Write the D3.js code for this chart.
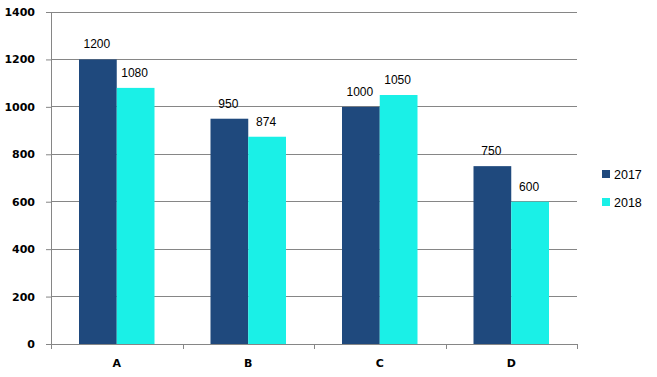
<!DOCTYPE html>
<html>
<head>
<meta charset="utf-8">
<script src="https://cdn.jsdelivr.net/npm/d3@7"></script>
<style>
  body { margin: 0; background: #fff; }
</style>
</head>
<body>
<div id="chart"></div>
<script>
// Chart data
var categories = ["A", "B", "C", "D"];
var seriesNames = ["2017", "2018"];
var values2017 = [1200, 950, 1000, 750];
var values2018 = [1080, 874, 1050, 600];
var yTicks = [0, 200, 400, 600, 800, 1000, 1200, 1400];

var colors = { "2017": "#1F497D", "2018": "#1AF0E7" };

var rows = categories.map(function(c, i) {
    return { key: c, values: [
        { series: "2017", value: values2017[i] },
        { series: "2018", value: values2018[i] }
    ] };
});

var totalW = 657, totalH = 377;
var margin = { top: 12, right: 80, bottom: 33, left: 51 },
    width = totalW - margin.left - margin.right,
    height = totalH - margin.top - margin.bottom;

var svg = d3.select("#chart")
    .append("svg")
    .attr("width", totalW)
    .attr("height", totalH)
    .append("g")
    .attr("transform", "translate(" + margin.left + "," + margin.top + ")");

var x = d3.scaleBand()
    .domain(categories)
    .range([0, width])
    .paddingInner(0)
    .paddingOuter(0);

var x1 = d3.scaleBand()
    .domain(seriesNames)
    .range([28, x.bandwidth() - 28]);

var y = d3.scaleLinear()
    .domain([0, 1400])
    .range([height, 0]);

// Gridlines
svg.append("g")
    .selectAll("line")
    .data(yTicks.slice(1))
    .enter().append("line")
    .attr("x1", 0)
    .attr("x2", width)
    .attr("y1", function(d) { return y(d); })
    .attr("y2", function(d) { return y(d); })
    .attr("stroke", "#868686")
    .attr("stroke-width", 1)
    .attr("shape-rendering", "crispEdges");

// Y axis
var yAxis = svg.append("g")
    .call(d3.axisLeft(y).tickValues(yTicks).tickFormat(d3.format("d")).tickSize(5).tickPadding(11));
yAxis.select(".domain").attr("stroke", "#868686").attr("d", "M0.5," + height + "V0");
yAxis.selectAll(".tick line").attr("stroke", "#868686");
yAxis.selectAll("text")
    .style("font-family", "'DejaVu Sans', sans-serif")
    .style("font-size", "11px")
    .style("font-weight", "bold")
    .attr("fill", "#000");

// Bars
var groups = svg.selectAll(".group")
    .data(rows)
    .enter().append("g")
    .attr("class", "group")
    .attr("transform", function(d) { return "translate(" + x(d.key) + ",0)"; });

groups.selectAll("rect")
    .data(function(d) { return d.values; })
    .enter().append("rect")
    .attr("x", function(d) { return x1(d.series); })
    .attr("width", x1.bandwidth())
    .attr("y", function(d) { return y(d.value); })
    .attr("height", function(d) { return height - y(d.value); })
    .attr("fill", function(d) { return colors[d.series]; });

// Value labels
groups.selectAll(".val")
    .data(function(d) { return d.values; })
    .enter().append("text")
    .attr("class", "val")
    .attr("x", function(d) { return x1(d.series) + x1.bandwidth() / 2 - 1; })
    .attr("y", function(d) { return y(d.value) - 11; })
    .attr("text-anchor", "middle")
    .style("font-family", "'Liberation Sans', Arial, sans-serif")
    .style("font-size", "12px")
    .attr("fill", "#000")
    .text(function(d) { return d.value; });

// X axis
var xAxis = svg.append("g")
    .attr("transform", "translate(0," + height + ")")
    .call(d3.axisBottom(x).tickSize(0).tickPadding(15));
xAxis.select(".domain").attr("stroke", "#868686");
xAxis.selectAll("text")
    .style("font-family", "'DejaVu Sans', sans-serif")
    .style("font-size", "11px")
    .style("font-weight", "bold")
    .attr("fill", "#000");

// Category separator ticks
svg.append("g")
    .selectAll("line")
    .data(d3.range(categories.length + 1))
    .enter().append("line")
    .attr("x1", function(i) { return Math.round(i * x.bandwidth()) + 0.5; })
    .attr("x2", function(i) { return Math.round(i * x.bandwidth()) + 0.5; })
    .attr("y1", height)
    .attr("y2", height + 5)
    .attr("stroke", "#868686");

// Legend
var legend = svg.append("g")
    .attr("transform", "translate(" + (width + 25) + "," + 158 + ")");

var items = legend.selectAll(".item")
    .data(seriesNames)
    .enter().append("g")
    .attr("transform", function(d, i) { return "translate(0," + (i * 28) + ")"; });

items.append("rect")
    .attr("width", 8)
    .attr("height", 8)
    .attr("fill", function(d) { return colors[d]; });

items.append("text")
    .attr("x", 12)
    .attr("y", 8.5)
    .style("font-family", "'Liberation Sans', Arial, sans-serif")
    .style("font-size", "12.5px")
    .attr("fill", "#000")
    .text(function(d) { return d; });
</script>
</body>
</html>
